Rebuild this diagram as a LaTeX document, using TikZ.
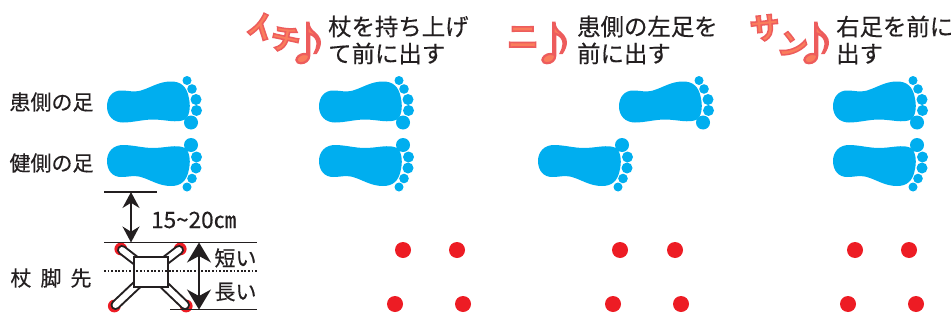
\documentclass[tikz,border=0pt]{standalone}
\usepackage{fontspec}
\setmainfont[FakeBold=0.35]{Noto Sans CJK JP}
\newfontfamily\beatfont[FakeBold=5]{Noto Sans CJK JP Bold}
\usetikzlibrary{arrows.meta}
\definecolor{footblue}{HTML}{00AEEF}
\definecolor{tipred}{HTML}{ED1C24}
\definecolor{inkgray}{HTML}{231F20}
\newcommand{\beattext}[2]{{\fontsize{#1}{#1}\beatfont\special{pdf:bc [0.98 0.49 0.36] [0.93 0.36 0.36]}#2\special{pdf:ec}}}
\tikzset{
  lbl/.style={inner sep=0, text=inkgray, font=\fontsize{21}{21}\selectfont},
  step text/.style={inner sep=0, text=inkgray, align=left, anchor=west, font=\fontsize{23.4}{27}\selectfont},
  beat/.style={inner sep=0},
  note/.style={inner sep=0, xscale=1.05},
  tip/.style={circle, fill=tipred, minimum size=16, inner sep=0},
  rule/.style={draw=inkgray, line width=1.5},
  gap/.style={draw=inkgray, line width=1.5, {Stealth[width=17,length=16]}-{Stealth[width=17,length=16]}},
  gapbig/.style={draw=inkgray, line width=1.6, {Stealth[width=24,length=20]}-{Stealth[width=24,length=20]}},
  foot/.pic={
    \fill[footblue] (0,0) .. controls (0,-10) and (6,-16) .. (14,-16)
      .. controls (22,-16) and (26,-14) .. (34,-16)
      .. controls (44,-19) and (52,-25) .. (64,-25)
      .. controls (74,-25) and (80,-20) .. (82,-8)
      .. controls (84,2) and (82,10) .. (78,13)
      .. controls (70,17) and (58,13) .. (46,13)
      .. controls (36,13) and (26,16) .. (16,16)
      .. controls (6,16) and (0,9) .. (0,0);
    \fill[footblue] (80,-26) circle (4.5);
    \fill[footblue] (85,-17.5) circle (4.8);
    \fill[footblue] (89,-7) circle (5.5);
    \fill[footblue] (89.5,4) circle (5.5);
    \fill[footblue] (84,16) circle (7);
  }
}
\begin{document}
\begin{tikzpicture}[x=1pt,y=-1pt]
\useasboundingbox (0,0) rectangle (952,324);

% feet
\pic at (107,106.5) {foot};
\pic[yscale=-1] at (107,161) {foot};
\pic at (319,106.5) {foot};
\pic[yscale=-1] at (319,161) {foot};
\pic at (619,106.5) {foot};
\pic[yscale=-1] at (538,161) {foot};
\pic at (833,106.5) {foot};
\pic[yscale=-1] at (833,161) {foot};

% left labels
\node[lbl] (patient) at (51.5,102) {患側の足};
\node[lbl] (healthy) at (51.5,163) {健側の足};
\node[lbl] (cane) at (51,278) {杖\hspace{9pt}脚\hspace{9pt}先};

% headers
\node[beat, rotate=18] (ichi1) at (260,28) {\beattext{30}{イ}};
\node[beat, rotate=-12] (ichi2) at (285.5,39.5) {\beattext{30}{チ}};
\node[note] (ichi3) at (308,43) {\beattext{44}{♪}};
\node[step text] (step1) at (328,40) {杖を持ち上げ\\て前に出す};

\node[beat] (ni1) at (523,37.5) {\beattext{32}{ニ}};
\node[note] (ni2) at (554,43) {\beattext{44}{♪}};
\node[step text] (step2) at (577,40) {患側の左足を\\前に出す};

\node[beat, rotate=6] (san1) at (765,28) {\beattext{30}{サ}};
\node[beat, rotate=-12] (san2) at (793,45) {\beattext{30}{ン}};
\node[note] (san3) at (816,43) {\beattext{44}{♪}};
\node[step text] (step3) at (836,40) {右足を前に\\出す};

% red dots
\node[tip] (a1) at (403,250) {};
\node[tip] (a2) at (457,250) {};
\node[tip] (a3) at (395,304) {};
\node[tip] (a4) at (463,304) {};
\node[tip] (b1) at (620,250) {};
\node[tip] (b2) at (675,250) {};
\node[tip] (b3) at (613,304) {};
\node[tip] (b4) at (681,304) {};
\node[tip] (c1) at (855,250) {};
\node[tip] (c2) at (909,250) {};
\node[tip] (c3) at (848,304) {};
\node[tip] (c4) at (916,304) {};

% cane base
\coordinate (heelL) at (104,192);
\coordinate (heelR) at (157,192);
\coordinate (shortL) at (104,242.5);
\coordinate (shortR) at (257,242.5);
\coordinate (midL) at (104,271);
\coordinate (midR) at (257,271);
\coordinate (longL) at (170,309.5);
\coordinate (longR) at (257,309.5);
\coordinate (gapT) at (131,192);
\coordinate (gapB) at (131,242.5);
\coordinate (spanT) at (199,242.5);
\coordinate (spanB) at (199,309.5);
\coordinate (body) at (150.5,272);
\coordinate (tipA) at (122,250);
\coordinate (tipB) at (179,250);
\coordinate (tipC) at (115.5,305);
\coordinate (tipD) at (185,305);

\fill[tipred] (120.8,249) circle (6.4);
\fill[tipred] (180.2,249) circle (6.4);
\fill[tipred] (114.3,306) circle (6.4);
\fill[tipred] (186.2,306) circle (6.4);
\foreach \t in {tipA,tipB,tipC,tipD}{
  \draw[inkgray, line width=10, line cap=round] (body) -- (\t);
  \draw[white, line width=6, line cap=round] (body) -- (\t);
}
\node[draw=inkgray, fill=white, line width=2, minimum width=34, minimum height=30, inner sep=0] (base) at (150.5,272) {};

\draw[rule] (heelL) -- (heelR);
\draw[rule] (shortL) -- (shortR);
\draw[rule] (longL) -- (longR);
\draw[inkgray, line width=1.6, dash pattern=on 1.7pt off 1.9pt] (midL) -- (midR);
\draw[gap] (gapT) -- (gapB);
\draw[gapbig] (spanT) -- (spanB);

\node[lbl, anchor=west, font=\fontsize{22.5}{22.5}\selectfont] (dist) at (151,220) {15\textasciitilde20㎝};
\node[lbl] (short) at (235.5,258) {短い};
\node[lbl] (long) at (235.5,292) {長い};
\end{tikzpicture}
\end{document}
